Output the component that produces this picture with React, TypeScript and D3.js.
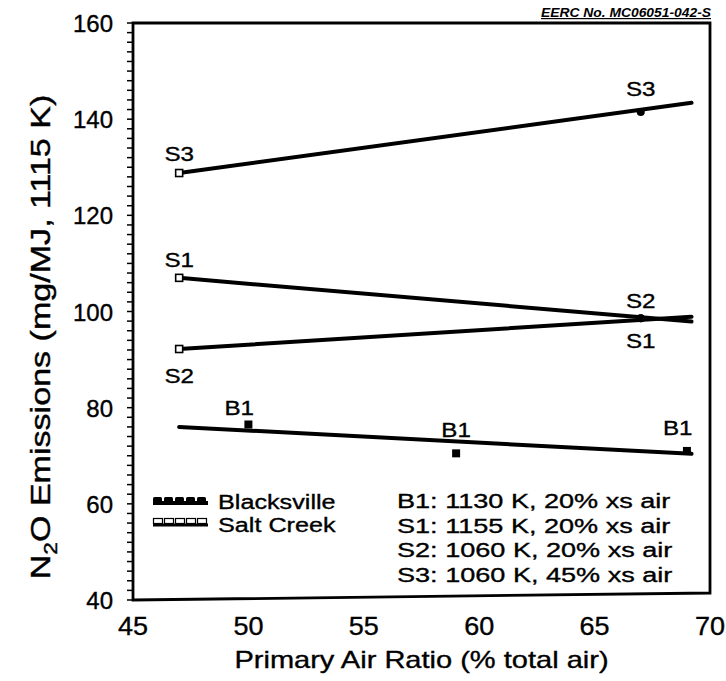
import React from "react";
import * as d3 from "d3";

const W = 726;
const H = 681;

// Tick values
const xTicks = [45, 50, 55, 60, 65, 70];
const yTicks = [40, 60, 80, 100, 120, 140, 160];

// Fitted lines (x start/end, y start/end)
const lineNames = ["S3", "S1", "S2", "B1"];
const lineX = [47, 69.2];
const lineS3 = [128.8, 143.4];
const lineS1 = [107.0, 97.9];
const lineS2 = [92.2, 98.9];
const lineB1 = [76.0, 70.4];

// Data points
const saltX = [47, 67];
const saltS3 = [128.8, 141.5];
const saltS1 = [107.0, 98.6];
const saltS2 = [92.2, 98.6];
const blackX = [50, 59, 69];
const blackB1 = [76.5, 70.5, 71.0];

const notes = [
  "B1: 1130 K, 20% xs air",
  "S1: 1155 K, 20% xs air",
  "S2: 1060 K, 20% xs air",
  "S3: 1060 K, 45% xs air",
];

const FONT = "'Liberation Sans', Arial, Helvetica, sans-serif";
const TXT = { stroke: "#000", strokeWidth: 0.35 };

function ST(props: any) {
  const { x, y, sx = 1.2, size = 22, anchor = "start", children, weight } = props;
  return (
    <g transform={`translate(${x},${y}) scale(${sx},1)`}>
      <text textAnchor={anchor} fontSize={size} fontFamily={FONT} fontWeight={weight} fill="#000" {...TXT}>
        {children}
      </text>
    </g>
  );
}

export default function App() {
  const x = d3.scaleLinear().domain([45, 70]).range([133, 710]);
  const y = d3.scaleLinear().domain([40, 160]).range([600, 23]);
  const line = d3
    .line<[number, number]>()
    .x((d) => x(d[0]))
    .y((d) => y(d[1]));

  const lines = [lineS3, lineS1, lineS2, lineB1].map((ys) =>
    lineX.map((xv, i) => [xv, ys[i]] as [number, number])
  );
  const minor = d3.range(40, 161, 2);

  const labels = [
    { t: "S3", x: 47, y: 128.8, dy: -12 },
    { t: "S1", x: 47, y: 107, dy: -11 },
    { t: "S2", x: 47, y: 92.2, dy: 34 },
    { t: "S3", x: 67, y: 141.5, dy: -16 },
    { t: "S2", x: 67, y: 98.6, dy: -10 },
    { t: "S1", x: 67, y: 98.6, dy: 30 },
    { t: "B1", x: 49.6, y: 76.5, dy: -9 },
    { t: "B1", x: 59, y: 70.5, dy: -16 },
    { t: "B1", x: 68.6, y: 71, dy: -16 },
  ];

  const framePath = `M133,23 L710,23 L710,593 L133,600 Z`;

  return (
    <svg width={W} height={H} style={{ position: "absolute", left: 0, top: 0, background: "#fff" }}>
      <rect x={0} y={0} width={W} height={H} fill="#fff" />
      {/* frame */}
      <path d={framePath} fill="none" stroke="#000" strokeWidth={2.8} />
      {/* y ticks */}
      {minor.map((v) => (
        <line key={v} x1={127} x2={133} y1={y(v)} y2={y(v)} stroke="#000" strokeWidth={1.5} />
      ))}
      {yTicks.map((v) => (
        <text key={v} x={113} y={y(v) + 9} textAnchor="end" fontSize={24} fontFamily={FONT} {...TXT}>
          {v}
        </text>
      ))}
      {xTicks.map((v) => (
        <g key={v} transform={`translate(${x(v)},${635}) scale(1.08,1)`}>
          <text textAnchor="middle" fontSize={25} fontFamily={FONT} {...TXT}>
            {v}
          </text>
        </g>
      ))}
      {/* axis titles */}
      <ST x={421.5} y={668} size={24} sx={1.21} anchor="middle">
        Primary Air Ratio (% total air)
      </ST>
      <g transform={`translate(50,337) rotate(-90) scale(1.42,1.15)`}>
        <text textAnchor="middle" fontSize={24} fontFamily={FONT} {...TXT}>
          N<tspan fontSize={16} dy={6}>2</tspan>
          <tspan dy={-6}>O Emissions (mg/MJ, 1115 K)</tspan>
        </text>
      </g>
      {/* EERC */}
      <text
        x={541}
        y={17}
        fontSize={12}
        fontStyle="italic"
        fontWeight="bold"
        fontFamily={FONT}
        textLength={170}
        lengthAdjust="spacingAndGlyphs"
        textDecoration="underline"
      >
        EERC No. MC06051-042-S
      </text>
      {/* lines */}
      {lines.map((d, i) => (
        <path key={lineNames[i]} d={line(d) || ""} fill="none" stroke="#000" strokeWidth={4} strokeLinecap="round" />
      ))}
      {/* points: Salt Creek (open at left, small dot on line at right) */}
      {[saltS3, saltS1, saltS2].map((ys, k) =>
        saltX.map((xv, i) =>
          i === 0 ? (
            <rect
              key={`s${k}-${i}`}
              x={x(xv) - 3.5}
              y={y(ys[i]) - 3.5}
              width={7}
              height={7}
              fill="#fff"
              stroke="#000"
              strokeWidth={1.6}
            />
          ) : (
            <circle key={`s${k}-${i}`} cx={x(xv)} cy={y(ys[i])} r={4} fill="#000" />
          )
        )
      )}
      {blackX.map((xv, i) => (
        <rect key={`b${i}`} x={x(xv) - 4} y={y(blackB1[i]) - 4} width={8} height={8} fill="#000" />
      ))}
      {/* point labels */}
      {labels.map((l, i) => (
        <ST key={i} x={x(l.x)} y={y(l.y) + l.dy} size={21} sx={1.15} anchor="middle">
          {l.t}
        </ST>
      ))}
      {/* legend */}
      <line x1={153} x2={208} y1={503} y2={503} stroke="#000" strokeWidth={4} />
      {[0, 1, 2, 3, 4].map((i) => (
        <rect key={`lb${i}`} x={153 + i * 11} y={497} width={9} height={8} fill="#000" rx={1.5} />
      ))}
      <line x1={153} x2={208} y1={525} y2={525} stroke="#000" strokeWidth={3} />
      {[0, 1, 2, 3, 4].map((i) => (
        <rect key={`ls${i}`} x={153.5 + i * 11} y={518.5} width={9} height={5} fill="#fff" stroke="#000" strokeWidth={1.2} />
      ))}
      <ST x={218} y={509} size={21} sx={1.2}>
        Blacksville
      </ST>
      <ST x={218} y={532} size={21} sx={1.2}>
        Salt Creek
      </ST>
      {/* notes */}
      {notes.map((n, i) => (
        <ST key={n} x={397} y={508 + i * 24.7} size={21} sx={1.29}>
          {n}
        </ST>
      ))}
    </svg>
  );
}
